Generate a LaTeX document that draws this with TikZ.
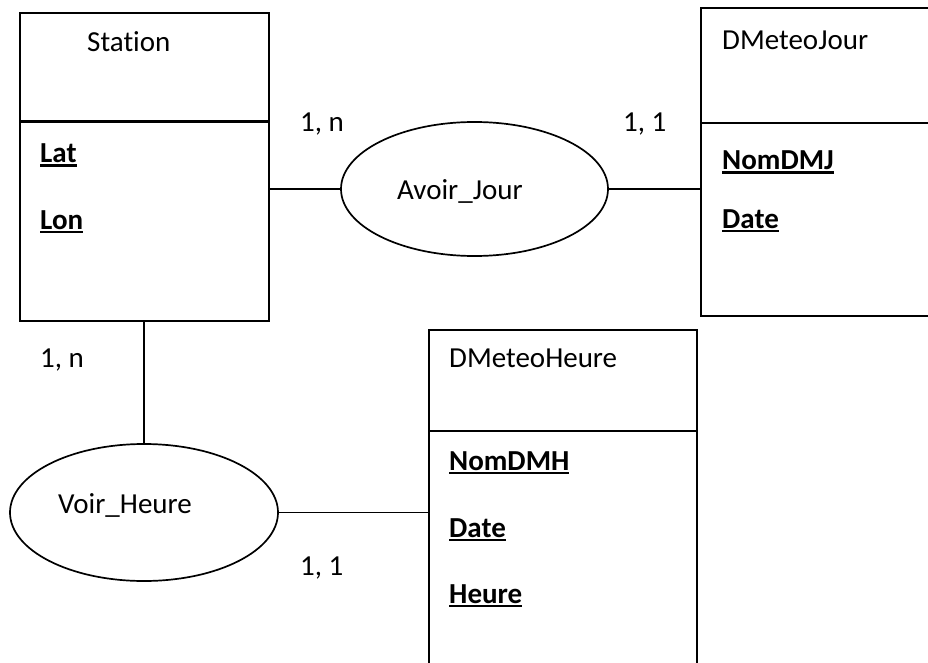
\documentclass[tikz,border=0pt]{standalone}
\usepackage{fontspec}
\setmainfont{Carlito}[Ligatures=NoCommon]
\usetikzlibrary{shapes.geometric}
% bold, underlined key attribute
\newcommand\keyattr[1]{\setbox0\hbox{\bfseries #1}\rlap{\copy0}\rule[-3.8pt]{\wd0}{2.3pt}}
\tikzset{
  entity/.style={draw, line width=2pt, rectangle, anchor=north west, inner sep=0pt},
  relation/.style={draw, line width=1.7pt, ellipse, inner sep=0pt},
  link/.style={line width=1.6pt},
  txt/.style={anchor=base west, inner sep=0pt, font=\fontsize{29}{34}\selectfont},
}
\begin{document}
\begin{tikzpicture}[x=1pt, y=-1pt]
\clip (0,0) rectangle (928,663);
\fill[white] (0,0) rectangle (928,663);

% entities
\node[entity, minimum width=249pt, minimum height=308pt] (station) at (19,12) {};
\node[entity, minimum width=260pt, minimum height=308pt] (jour) at (700,7) {};
\node[entity, minimum width=268pt, minimum height=360pt] (heure) at (428,329) {};
\coordinate (sdiv) at (19,122);
\coordinate (jdiv) at (700,123);
\coordinate (hdiv) at (428,431);
\draw[line width=3pt] (sdiv) -- (sdiv -| station.east);
\draw[line width=2pt] (jdiv) -- (jdiv -| jour.east);
\draw[line width=2pt] (hdiv) -- (hdiv -| heure.east);

% relations
\node[relation, minimum width=267pt, minimum height=134pt] (avoir) at (474.5,189) {};
\node[relation, minimum width=268pt, minimum height=137pt] (voir) at (144,512.5) {};

% connectors
\draw[link] (avoir.west) -- (avoir.west -| station.east);
\draw[link] (avoir.east) -- (avoir.east -| jour.west);
\draw[link] (voir.north) -- (voir.north |- station.south);
\draw[link] (voir.east) -- (voir.east -| heure.west);

% entity titles and attributes
\node[txt] (tstation) at (87,52) {Station};
\node[txt] (lat) at (40,163) {\keyattr{Lat}};
\node[txt] (lon) at (40,229) {\keyattr{Lon}};

\node[txt] (tjour) at (722,50) {DMeteoJour};
\node[txt] (nomdmj) at (722,170) {\keyattr{NomDMJ}};
\node[txt] (datej) at (722,228) {\keyattr{Date}};

\node[txt] (theure) at (449,367) {DMeteoHeure};
\node[txt] (nomdmh) at (449,470) {\keyattr{NomDMH}};
\node[txt] (dateh) at (449,537) {\keyattr{Date}};
\node[txt] (hh) at (449,603) {\keyattr{Heure}};

% relation names
\node[txt] (tavoir) at (397,200) {Avoir\_Jour};
\node[txt] (tvoir) at (58,513) {Voir\_Heure};

% cardinalities
\node[txt] (c1) at (300,132) {1, n};
\node[txt] (c2) at (623,132) {1, 1};
\node[txt] (c3) at (40,367) {1, n};
\node[txt] (c4) at (300,575) {1, 1};
\end{tikzpicture}
\end{document}
